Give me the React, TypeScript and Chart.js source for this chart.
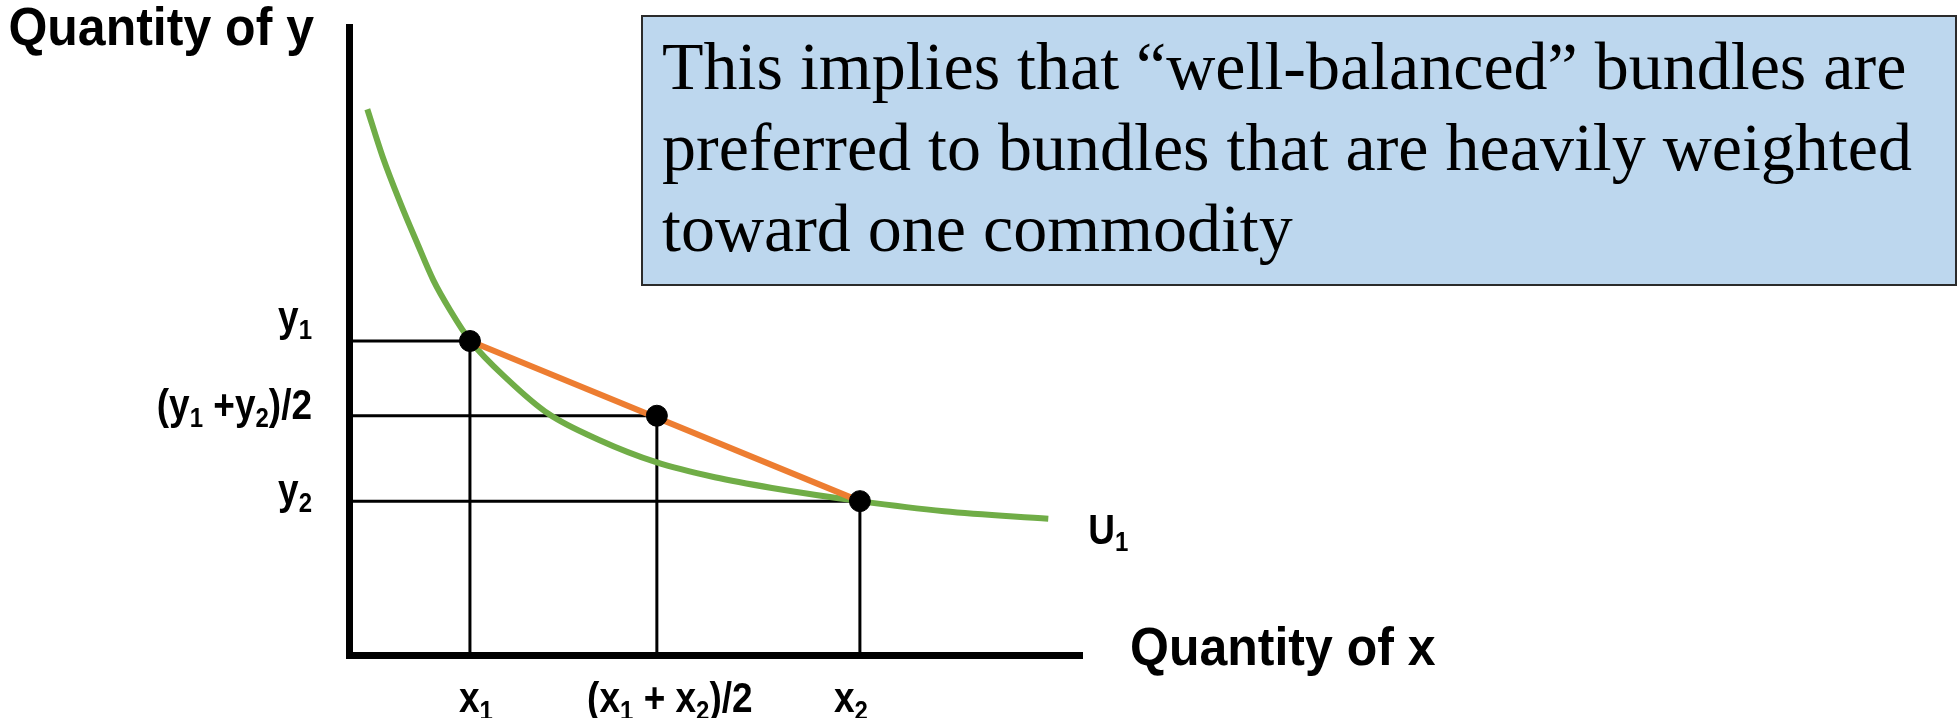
import React, { useEffect, useRef } from "react";
import { Chart, registerables } from "chart.js";

Chart.register(...registerables);

// ---- data (chart units: both axes 0..100) ----
const curveX = [2.5, 4.6, 7.0, 9.3, 11.5, 13.8, 16.5, 21.7, 27.2, 34.2, 41.9, 49.9, 57.7, 69.7, 81.2, 95.4];
const curveY = [86.9, 79.3, 72.0, 65.6, 59.7, 54.9, 50.1, 43.8, 38.4, 34.2, 30.7, 28.3, 26.6, 24.5, 22.9, 21.7];
const bundleX = [16.5, 42.0, 69.7];
const bundleY = [50.0, 38.1, 24.5];
const xTickLabels = ["x_1", "(x_1 + x_2)/2", "x_2"];
const yTickLabels = ["y_1", "(y_1 +y_2)/2", "y_2"];
const curveLabel = "U_1";
const xAxisTitle = "Quantity of x";
const yAxisTitle = "Quantity of y";
const noteLines = [
  "This implies that \u201Cwell-balanced\u201D bundles are",
  "preferred to bundles that are heavily weighted",
  "toward one commodity",
];

// ---- styles ----
const GREEN = "#70AD47";
const ORANGE = "#ED7D31";
const SANS = '"Liberation Sans", Arial, Helvetica, sans-serif';
const SERIF = '"Liberation Serif", "Times New Roman", serif';
const TICK_SIZE = 37;
const SUB_RATIO = 0.64;
const STRETCH = 1.14;
const yLabelDy = [-10, 3, 3];
const xLabelDx = [6, 13, -9];

function drawRich(ctx: CanvasRenderingContext2D, str: string, x: number, y: number, align: "left" | "right" | "center", size: number, stretch: number) {
  const parts: { t: string; sub: boolean }[] = [];
  let buf = "";
  for (let i = 0; i < str.length; i++) {
    if (str[i] === "_" && i + 1 < str.length) {
      if (buf) parts.push({ t: buf, sub: false });
      buf = "";
      parts.push({ t: str[i + 1], sub: true });
      i++;
    } else buf += str[i];
  }
  if (buf) parts.push({ t: buf, sub: false });
  const mainF = `bold ${size}px ${SANS}`;
  const subF = `bold ${Math.round(size * SUB_RATIO)}px ${SANS}`;
  const widths = parts.map((p) => {
    ctx.font = p.sub ? subF : mainF;
    return ctx.measureText(p.t).width;
  });
  const total = widths.reduce((a, b) => a + b, 0);
  let sx = align === "left" ? x : align === "right" ? x - total : x - total / 2;
  ctx.save();
  ctx.translate(0, y);
  ctx.scale(1, stretch);
  ctx.textAlign = "left";
  ctx.textBaseline = "alphabetic";
  ctx.fillStyle = "#000";
  parts.forEach((p, i) => {
    ctx.font = p.sub ? subF : mainF;
    ctx.fillText(p.t, sx, p.sub ? (size * 0.21) / stretch : 0);
    sx += widths[i];
  });
  ctx.restore();
}

const annotations = {
  id: "annotations",
  afterDraw(chart: any) {
    const ctx: CanvasRenderingContext2D = chart.ctx;
    const xs = chart.scales.x;
    const ys = chart.scales.y;
    const x0 = xs.getPixelForValue(0);
    const y0 = ys.getPixelForValue(0);
    ctx.save();

    // y tick labels
    yTickLabels.forEach((lab, i) => {
      drawRich(ctx, lab, x0 - 37, ys.getPixelForValue(bundleY[i]) + yLabelDy[i], "right", TICK_SIZE, STRETCH);
    });
    // x tick labels
    xTickLabels.forEach((lab, i) => {
      drawRich(ctx, lab, xs.getPixelForValue(bundleX[i]) + xLabelDx[i], y0 + 57, "center", TICK_SIZE, STRETCH);
    });
    // curve label
    const lastI = curveX.length - 1;
    drawRich(ctx, curveLabel, xs.getPixelForValue(curveX[lastI]) + 40, ys.getPixelForValue(curveY[lastI]) + 25, "left", TICK_SIZE, STRETCH);

    // axis titles
    ctx.fillStyle = "#000";
    ctx.textBaseline = "alphabetic";
    ctx.font = `bold 50px ${SANS}`;
    ctx.save();
    ctx.translate(x0 - 35, 45);
    ctx.scale(1, 1.06);
    ctx.textAlign = "right";
    ctx.fillText(yAxisTitle, 0, 0);
    ctx.restore();
    ctx.save();
    ctx.translate(xs.getPixelForValue(100) + 48, y0 + 10);
    ctx.scale(1, 1.06);
    ctx.textAlign = "left";
    ctx.fillText(xAxisTitle, 0, 0);
    ctx.restore();

    // note box
    const bx = 642, by = 16, bw = 1956 - 642, bh = 285 - 16;
    ctx.fillStyle = "#BDD7EE";
    ctx.fillRect(bx, by, bw, bh);
    ctx.strokeStyle = "#2B2B2B";
    ctx.lineWidth = 2;
    ctx.strokeRect(bx, by, bw, bh);
    ctx.fillStyle = "#000";
    ctx.font = `68px ${SERIF}`;
    ctx.textAlign = "left";
    noteLines.forEach((line, i) => {
      ctx.fillText(line, 662, 89 + i * 81);
    });
    ctx.restore();
  },
};

export default function App() {
  const ref = useRef<HTMLCanvasElement | null>(null);
  useEffect(() => {
    if (!ref.current) return;
    const guide = (i: number) => ({
      type: "line" as const,
      data: [
        { x: 0, y: bundleY[i] },
        { x: bundleX[i], y: bundleY[i] },
        { x: bundleX[i], y: 0 },
      ],
      borderColor: "#000",
      borderWidth: 3,
      pointRadius: 0,
      tension: 0,
      fill: false,
      order: 4,
    });
    const chart = new Chart(ref.current, {
      type: "scatter",
      data: {
        datasets: [
          {
            type: "scatter",
            data: bundleX.map((x, i) => ({ x, y: bundleY[i] })),
            backgroundColor: "#000",
            borderColor: "#000",
            pointRadius: 10.5,
            pointHoverRadius: 10.5,
            order: 0,
          } as any,
          {
            type: "line",
            data: [
              { x: bundleX[0], y: bundleY[0] },
              { x: bundleX[2], y: bundleY[2] },
            ],
            borderColor: ORANGE,
            borderWidth: 6,
            pointRadius: 0,
            fill: false,
            order: 1,
          },
          {
            type: "line",
            data: curveX.map((x, i) => ({ x, y: curveY[i] })),
            borderColor: GREEN,
            borderWidth: 6,
            pointRadius: 0,
            fill: false,
            cubicInterpolationMode: "monotone",
            order: 2,
          },
          guide(0),
          guide(1),
          guide(2),
        ],
      },
      options: {
        responsive: false,
        animation: false,
        events: [],
        layout: { padding: { left: 349, right: 878, top: 27, bottom: 63 } },
        plugins: { legend: { display: false }, tooltip: { enabled: false } },
        scales: {
          x: {
            type: "linear",
            min: 0,
            max: 100,
            ticks: { display: false },
            grid: { display: false, drawTicks: false },
            border: { display: true, width: 7, color: "#000" },
          },
          y: {
            type: "linear",
            min: 0,
            max: 100,
            ticks: { display: false },
            grid: { display: false, drawTicks: false },
            border: { display: true, width: 7, color: "#000" },
          },
        },
      },
      plugins: [annotations],
    } as any);
    return () => chart.destroy();
  }, []);
  return (
    <div style={{ position: "absolute", left: 0, top: 0, width: 1960, height: 718, background: "#fff" }}>
      <canvas ref={ref} width={1960} height={718} style={{ display: "block", width: 1960, height: 718 }} />
    </div>
  );
}
